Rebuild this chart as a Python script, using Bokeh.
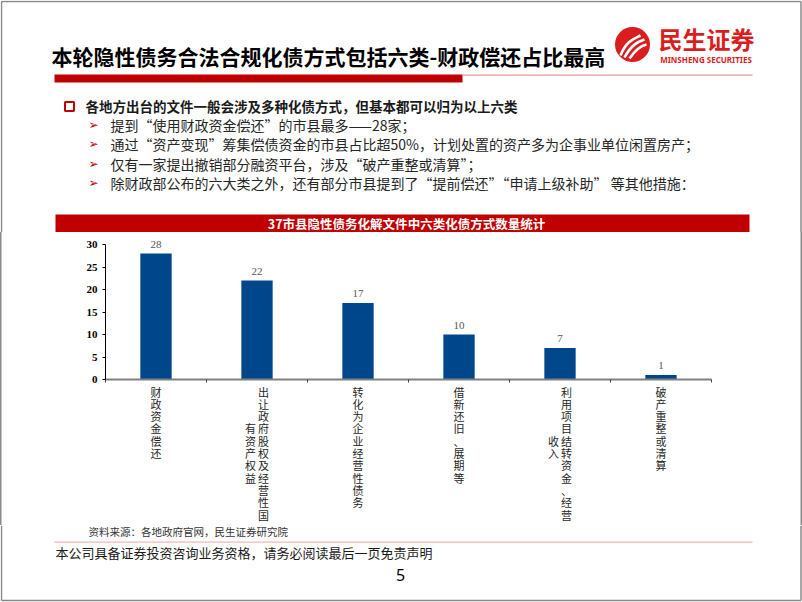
from bokeh.plotting import figure
from bokeh.layouts import column
from bokeh.models import (Range1d, FixedTicker, Label, LabelSet, ColumnDataSource, LinearAxis)
from bokeh.core.properties import value
from bokeh.embed import file_html
from bokeh.resources import INLINE

# ---------------- data ----------------
categories = ["财政资金偿还", "出让政府股权及经营性国有资产权益", "转化为企业经营性债务",
              "借新还旧、展期等", "利用项目结转资金、经营收入", "破产重整或清算"]
counts = [28, 22, 17, 10, 7, 1]
y_ticks = [0, 5, 10, 15, 20, 25, 30]

title_text = "本轮隐性债务合法合规化债方式包括六类-财政偿还占比最高"
bullet_head = "各地方出台的文件一般会涉及多种化债方式，但基本都可以归为以上六类"
bullet_items = [
    "提到“使用财政资金偿还”的市县最多——28家；",
    "通过“资产变现”筹集偿债资金的市县占比超50%，计划处置的资产多为企事业单位闲置房产；",
    "仅有一家提出撤销部分融资平台，涉及“破产重整或清算”；",
    "除财政部公布的六大类之外，还有部分市县提到了“提前偿还”“申请上级补助” 等其他措施：",
]
chart_title = "37市县隐性债务化解文件中六类化债方式数量统计"
source_note = "资料来源：各地政府官网，民生证券研究院"
disclaimer = "本公司具备证券投资咨询业务资格，请务必阅读最后一页免责声明"
page_no = "5"
brand_cn = "民生证券"
brand_en = "MINSHENG SECURITIES"

# ---------------- layout constants (page pixels) ----------------
W = 802
TOP_H = 232          # header strip: title, bullets, chart banner
CHART_BOTTOM = 525   # end of the chart strip
H = 602
FL, FR = 105, 711    # chart frame left / right
Y30, Y0 = 244, 379   # pixel rows of value 30 and 0
CJK = "Noto Sans CJK SC"
RED = "#C00000"
BORDER = "#8a8a8a"


def page_fig(y_top, y_bot):
    f = figure(width=W, height=y_bot - y_top, output_backend="svg", toolbar_location=None,
               x_range=Range1d(0, W), y_range=Range1d(y_bot, y_top),
               x_axis_type=None, y_axis_type=None, min_border=0, frame_align=False,
               background_fill_color="white", border_fill_color="white")
    f.title = None
    f.outline_line_color = None
    f.grid.visible = False
    return f


def label(f, x, y, text, size, color="#1a1a1a", font=CJK, style="normal", align="left"):
    f.add_layout(Label(x=x, y=y, text=text, text_font=font, text_font_size=size,
                       text_font_style=style, text_color=color, text_align=align,
                       text_baseline="middle"))


# ---------------- header strip ----------------
top = page_fig(0, TOP_H)
top.segment(x0=[1, 1, 800.5], y0=[1, 1, 1], x1=[800.5, 1, 800.5], y1=[1, TOP_H, TOP_H],
            line_color=BORDER, line_width=1.5)
label(top, 51, 55, title_text, "21px", color="black", style="bold")
top.quad(left=[54, 462], right=[462, 752], top=[74, 74], bottom=[82, 75.3],
         fill_color=[RED, "#E39A9A"], line_color=None)

# logo
top.scatter(x=[632], y=[44], size=35, marker="circle", fill_color="#D81E1E", line_color=None)
top.bezier(x0=[620, 624, 629], y0=[55, 57, 58], x1=[640, 644, 646], y1=[35, 39, 44],
           cx0=[626, 631, 636], cy0=[40, 44, 48], cx1=[634, 638, 641], cy1=[38, 41, 45],
           line_color="white", line_width=2.6)
label(top, 658, 38, brand_cn, "24px", color="#D81E1E", style="bold")
label(top, 705.5, 59, brand_en, "8px", color="#D81E1E", font="Noto Sans", style="bold", align="center")

# bullets
top.quad(left=[64.5], right=[73.5], top=[101.5], bottom=[110.5],
         fill_color=None, line_color=RED, line_width=2)
label(top, 85, 105.5, bullet_head, "13.5px", color="#1a1a1a", style="bold")
for k, item in enumerate(bullet_items):
    yy = 124.5 + k * 19.4
    label(top, 88, yy, "➢", "12px", color=RED, font="DejaVu Sans")
    label(top, 110, yy, item, "14px", color="#262626")

# chart banner
top.quad(left=[55], right=[749], top=[214], bottom=[232], fill_color=RED, line_color=None)
label(top, 406, 223, chart_title, "12.5px", color="white", style="bold", align="center")

# ---------------- chart strip ----------------
px_per_unit = (Y0 - Y30) / 30.0
chart = figure(width=W, height=CHART_BOTTOM - TOP_H, output_backend="svg", toolbar_location=None,
               x_range=Range1d(0, len(categories)),
               y_range=Range1d(0, 30 + (Y30 - TOP_H) / px_per_unit),
               min_border_left=FL, min_border_right=W - FR,
               min_border_top=0, min_border_bottom=CHART_BOTTOM - Y0, frame_align=False,
               background_fill_color="white", border_fill_color=None,
               styles={"box-shadow": "inset 1.5px 0 0 %s, inset -1.5px 0 0 %s" % (BORDER, BORDER)})
chart.title = None
chart.outline_line_color = None
chart.grid.visible = False

xs = [i + 0.5 for i in range(len(categories))]
src = ColumnDataSource(dict(x=xs, top=counts, lab=[str(c) for c in counts]))
chart.vbar(x="x", top="top", width=0.31, source=src, fill_color="#00468B", line_color=None)
chart.add_layout(LabelSet(x="x", y="top", text="lab", source=src, y_offset=6,
                          text_align="center", text_baseline="bottom",
                          text_font=value("Liberation Serif"), text_font_size="11px",
                          text_color="#595959"))

ya = chart.yaxis[0]
ya.ticker = FixedTicker(ticks=y_ticks)
ya.bounds = (0, 30)
ya.minor_tick_line_color = None
ya.major_tick_in = 0
ya.major_tick_out = 3
ya.axis_line_color = "black"
ya.major_tick_line_color = "black"
ya.major_label_text_font = "Liberation Serif"
ya.major_label_text_font_style = "bold"
ya.major_label_text_font_size = "11px"
ya.major_label_text_color = "black"
ya.major_label_standoff = 5

bounds_ticks = list(range(len(categories) + 1))
xa = chart.xaxis[0]
xa.ticker = FixedTicker(ticks=bounds_ticks)
xa.minor_tick_line_color = None
xa.major_tick_in = 0
xa.major_tick_out = 3
xa.axis_line_color = "#808080"
xa.axis_line_width = 2
xa.major_tick_line_color = "#404040"
xa.major_label_overrides = {t: "" for t in bounds_ticks}
xa.major_label_text_font_size = "1px"
xa.major_label_standoff = 0


def stacked(cat, per_col=11):
    cols = [cat[k:k + per_col] for k in range(0, len(cat), per_col)]
    if len(cols) == 1:
        return "\n".join(cols[0])
    right, left = cols[0], cols[1]
    start = (len(right) - len(left)) // 2
    lines = []
    for r, ch in enumerate(right):
        j = r - start
        lc = left[j] if 0 <= j < len(left) else "\u3000"
        lines.append(lc + "\u2009" + ch)
    return "\n".join(lines)


cat_axis = LinearAxis(ticker=FixedTicker(ticks=xs),
                      major_label_overrides={x: stacked(c) for x, c in zip(xs, categories)})
cat_axis.axis_line_color = None
cat_axis.major_tick_line_color = None
cat_axis.minor_tick_line_color = None
cat_axis.major_label_standoff = -5
cat_axis.major_label_text_font = CJK
cat_axis.major_label_text_font_size = "11px"
cat_axis.major_label_text_line_height = 0.77
cat_axis.major_label_text_color = "#1f1f1f"
chart.add_layout(cat_axis, "below")

# ---------------- footer strip ----------------
bot = page_fig(CHART_BOTTOM, H)
bot.segment(x0=[1, 800.5, 1], y0=[CHART_BOTTOM, CHART_BOTTOM, 600], x1=[1, 800.5, 800.5],
            y1=[600, 600, 600], line_color=BORDER, line_width=1.5)
label(bot, 88, 531, source_note, "10.5px", color="#333333")
bot.quad(left=[54], right=[752], top=[541], bottom=[542.3], fill_color="#F0B8B8", line_color=None)
label(bot, 55, 552, disclaimer, "13px", color="#1a1a1a")
label(bot, 400, 574, page_no, "16px", color="black", font="Noto Sans", align="center")

page = column(top, chart, bot, spacing=0)

open("out.html", "w").write(file_html(page, INLINE))
